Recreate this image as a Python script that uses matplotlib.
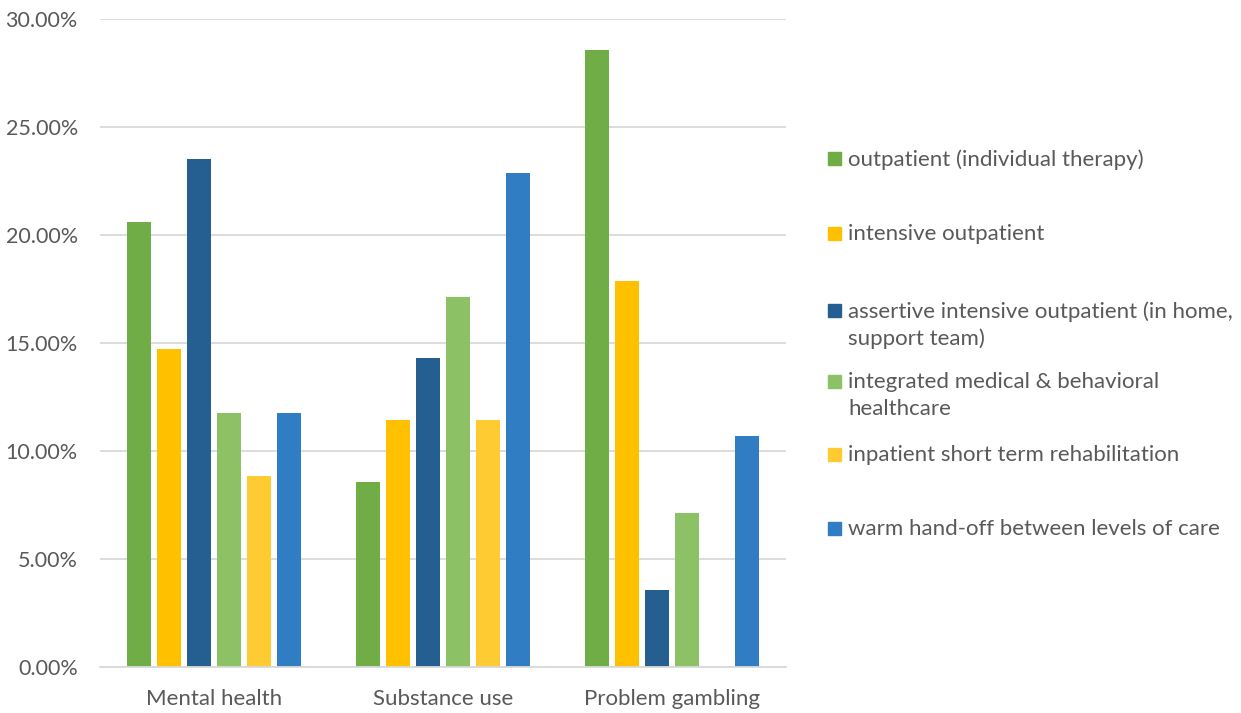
import matplotlib.pyplot as plt
from matplotlib.patches import Rectangle
from matplotlib.ticker import FuncFormatter
import numpy as np

# Data
categories = ["Mental health", "Substance use", "Problem gambling"]
series_names = [
    "outpatient (individual therapy)",
    "intensive outpatient",
    "assertive intensive outpatient (in home,\nsupport team)",
    "integrated medical & behavioral\nhealthcare",
    "inpatient short term rehabilitation",
    "warm hand-off between levels of care",
]
outpatient = [20.59, 8.57, 28.57]
intensive = [14.71, 11.43, 17.86]
assertive = [23.53, 14.29, 3.57]
integrated = [11.76, 17.14, 7.14]
inpatient = [8.82, 11.43, 0.0]
warm_handoff = [11.76, 22.86, 10.71]
series_values = [outpatient, intensive, assertive, integrated, inpatient, warm_handoff]
yticks = [0, 5, 10, 15, 20, 25, 30]

colors = ["#70AD47", "#FFC000", "#255E91", "#8DC165", "#FFCB33", "#307DC3"]
text_color = "#595959"
grid_color = "#D9D9D9"

plt.rcParams['font.family'] = ['Lato', 'DejaVu Sans']

W, H = 1241, 713
fig = plt.figure(figsize=(W / 100, H / 100), dpi=100)
ax = fig.add_axes([100 / W, 1 - 667 / H, 686 / W, 648 / H])

x = np.arange(len(categories))
step = 0.131
width = 0.105
for j, vals in enumerate(series_values):
    ax.bar(x + (j - 2.5) * step, vals, width=width, color=colors[j], zorder=3)

ax.set_xlim(-0.5, 2.5)
ax.set_ylim(0, 30)
ax.set_yticks(yticks)
ax.yaxis.set_major_formatter(FuncFormatter(lambda v, p: "%.2f%%" % v))
ax.set_xticks(x)
ax.set_xticklabels(categories)
ax.tick_params(axis='both', length=0, colors=text_color)
ax.tick_params(axis='y', pad=16, labelsize=15.5)
ax.tick_params(axis='x', pad=16, labelsize=16)
ax.grid(axis='y', color=grid_color, linewidth=1.3, zorder=0)
for s in ['top', 'right', 'left']:
    ax.spines[s].set_visible(False)
ax.spines['bottom'].set_color(grid_color)
ax.spines['bottom'].set_linewidth(1.3)
ax.spines['bottom'].set_zorder(4)

# Legend drawn by hand to follow the reference layout
legend_y = [158, 233, 310, 381, 454, 528]
for j, name in enumerate(series_names):
    yc = legend_y[j]
    fig.patches.append(Rectangle((828 / W, 1 - (yc + 7) / H), 13 / W, 13 / H,
                                 transform=fig.transFigure, color=colors[j]))
    fig.text(848 / W, 1 - (yc - 9) / H, name, fontsize=16, color=text_color,
             va='top', ha='left', linespacing=1.42)

fig.savefig("out.png", dpi=100)
